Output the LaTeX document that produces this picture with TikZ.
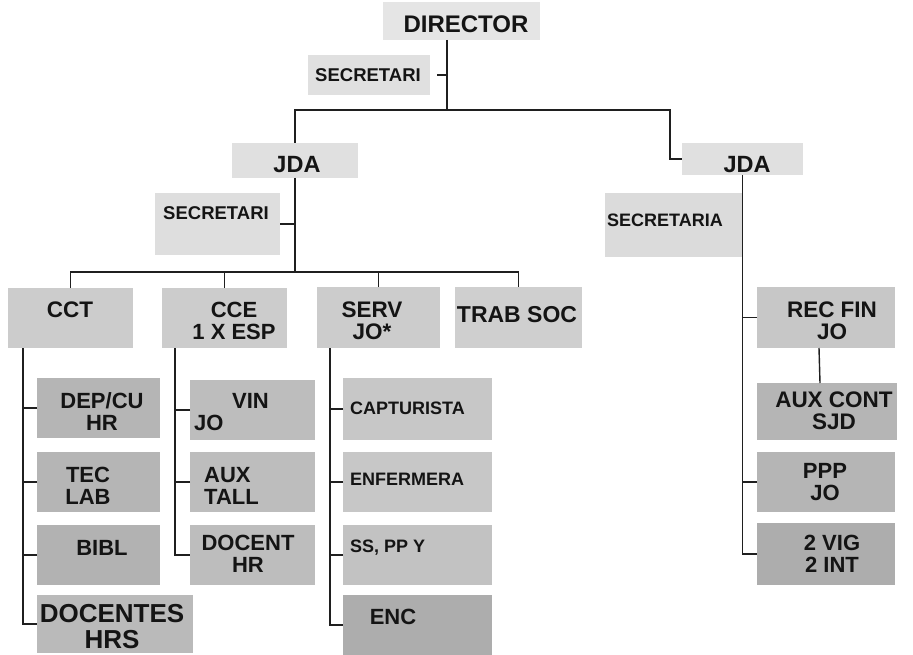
\documentclass[tikz,border=0pt]{standalone}
\usepackage{fontspec}
\setmainfont{Liberation Sans}
\begin{document}
\begin{tikzpicture}[x=1pt,y=-1pt,
  bx/.style={fill=#1,draw=none,inner sep=0pt,outer sep=0pt},
  tx/.style={inner sep=0pt,font=\bfseries\fontsize{#1}{#1}\selectfont,align=center,text=black!92},
  tl/.style={inner sep=0pt,font=\bfseries\fontsize{#1}{#1}\selectfont,align=left,anchor=west,text=black!92},
  ln/.style={draw=black!88,line width=1.4pt}]
\useasboundingbox (0,0) rectangle (913,655);
\fill[white] (0,0) rectangle (913,655);
% ---- boxes
\node[bx=black!10,minimum width=157,minimum height=38] (dir) at (461.5,21) {};
\node[bx=black!12,minimum width=122,minimum height=40] (sec0) at (369,75) {};
\node[bx=black!12,minimum width=126,minimum height=35] (jdaL) at (295,160.5) {};
\node[bx=black!13,minimum width=125,minimum height=62] (secL) at (217.5,224) {};
\node[bx=black!12,minimum width=121,minimum height=32] (jdaR) at (742.5,159) {};
\node[bx=black!14,minimum width=137,minimum height=64] (secR) at (673.5,225) {};
\node[bx=black!20,minimum width=125,minimum height=60] (cct) at (70.5,318) {};
\node[bx=black!20,minimum width=125,minimum height=60] (cce) at (224.5,318) {};
\node[bx=black!20,minimum width=123,minimum height=61] (serv) at (378.5,317.5) {};
\node[bx=black!19,minimum width=127,minimum height=61] (trab) at (518.5,317.5) {};
\node[bx=black!29,minimum width=123,minimum height=60] (dep) at (98.5,408) {};
\node[bx=black!29,minimum width=123,minimum height=60] (tec) at (98.5,482) {};
\node[bx=black!30,minimum width=123,minimum height=60] (bibl) at (98.5,555) {};
\node[bx=black!27,minimum width=156,minimum height=58] (doc) at (115,624) {};
\node[bx=black!26,minimum width=125,minimum height=60] (vin) at (252.5,410) {};
\node[bx=black!26,minimum width=125,minimum height=60] (aux) at (252.5,482) {};
\node[bx=black!26,minimum width=125,minimum height=60] (docent) at (252.5,555) {};
\node[bx=black!22,minimum width=149,minimum height=62] (capt) at (417.5,409) {};
\node[bx=black!22,minimum width=149,minimum height=60] (enf) at (417.5,482) {};
\node[bx=black!24,minimum width=149,minimum height=60] (ss) at (417.5,555) {};
\node[bx=black!32,minimum width=149,minimum height=60] (enc) at (417.5,625) {};
\node[bx=black!22,minimum width=138,minimum height=61] (rec) at (826,317.5) {};
\node[bx=black!29,minimum width=140,minimum height=57] (auxc) at (827,411.5) {};
\node[bx=black!29,minimum width=138,minimum height=60] (ppp) at (826,482) {};
\node[bx=black!32,minimum width=138,minimum height=62] (vig) at (826,554) {};
% ---- connector points
\coordinate (t0) at (447,110);
\coordinate (tR) at (670,110);
\coordinate (tL) at (294,272);
\coordinate (cctv) at (23,348);
\coordinate (ccev) at (175,348);
\coordinate (servv) at (330,348);
% ---- connectors
\draw[ln] (dir.south -| t0) -- (t0);
\draw[ln] ([xshift=7pt]sec0.east) -- (sec0.east -| t0);
\draw[ln] (jdaL.north) |- (t0) -- (tR) |- (jdaR.west);
\draw[ln] (jdaL.south) -- (jdaL.south |- tL);
\draw[ln] (secL.east) -- (secL.east -| jdaL.south);
\draw[ln] (cct.north) -- (cct.north |- tL) -- (trab.north |- tL) -- (trab.north);
\draw[ln] (cce.north) -- (cce.north |- tL);
\draw[ln] (serv.north) -- (serv.north |- tL);
\draw[ln] (cctv) |- (doc.west);
\draw[ln] (dep.west) -- (dep.west -| cctv);
\draw[ln] (tec.west) -- (tec.west -| cctv);
\draw[ln] (bibl.west) -- (bibl.west -| cctv);
\draw[ln] (ccev) |- (docent.west);
\draw[ln] (vin.west) -- (vin.west -| ccev);
\draw[ln] (aux.west) -- (aux.west -| ccev);
\draw[ln] (servv) |- (enc.west);
\draw[ln] (capt.west) -- (capt.west -| servv);
\draw[ln] (enf.west) -- (enf.west -| servv);
\draw[ln] (ss.west) -- (ss.west -| servv);
\draw[ln] (jdaR.south) |- (vig.west);
\draw[ln] (rec.west) -- (rec.west -| jdaR.south);
\draw[ln] (ppp.west) -- (ppp.west -| jdaR.south);
\draw[ln] ([xshift=-7pt]rec.south) -- ([xshift=-7pt]auxc.north);
% ---- texts
\node[tx=24] (dir-t) at (466,24) {DIRECTOR};
\node[tx=18.5] (sec0-t) at (368,75) {SECRETARI};
\node[tx=23.5] (jdaL-t) at (297,165) {JDA};
\node[tx=18.5] (secL-t) at (216,213) {SECRETARI};
\node[tx=23.5] (jdaR-t) at (747,165) {JDA};
\node[tl=18] (secR-t) at (607,220) {SECRETARIA};
\node[tx=22.5] (cct-t) at (70,310) {CCT};
\node[tx=22] (cce-t) at (234,321) {CCE\\[0pt]1 X ESP};
\node[tx=22.5] (serv-t) at (372,321) {SERV\\JO*};
\node[tx=23] (trab-t) at (517,315) {TRAB SOC};
\node[tx=22] (dep-t) at (102,412) {DEP/CU\\HR};
\node[tx=22] (tec-t) at (88,486) {TEC\\LAB};
\node[tx=22] (bibl-t) at (102,548) {BIBL};
\node[tx=26] (doc-t) at (112,627) {DOCENTES\\HRS};
\node[tl=22] (vin-t) at (194,412) {\hspace*{38pt}VIN\\JO};
\node[tl=22] (aux-t) at (204,486) {AUX\\TALL};
\node[tx=22] (docent-t) at (248,554) {DOCENT\\HR};
\node[tl=18] (capt-t) at (350,408) {CAPTURISTA};
\node[tl=18] (enf-t) at (350,479) {ENFERMERA};
\node[tl=18] (ss-t) at (350,548) {SS, PP Y};
\node[tx=22] (enc-t) at (393,617) {ENC};
\node[tx=22.5] (rec-t) at (832,321) {REC FIN\\JO};
\node[tx=22.5] (auxc-t) at (834,411) {AUX CONT\\SJD};
\node[tx=22] (ppp-t) at (825,482) {PPP\\JO};
\node[tx=22] (vig-t) at (832,554) {2 VIG\\2 INT};
\end{tikzpicture}
\end{document}
